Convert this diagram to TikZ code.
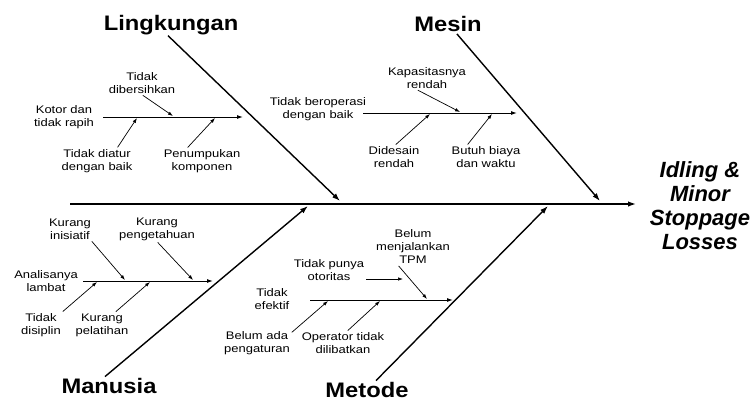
\documentclass[tikz,border=0pt]{standalone}
\usepackage{fontspec}
\setmainfont{Liberation Sans}
\newfontfamily\causefont[FakeStretch=1.18]{Liberation Sans}
\newfontfamily\bonefont[FakeStretch=1.13]{Liberation Sans}
\usetikzlibrary{
	arrows.meta,
	calc,
	positioning,
}
\tikzset{
	bone line/.style={line width=1.4pt, -{Latex[length=8pt,width=5.5pt]}},
	twig line/.style={line width=1pt, -{Latex[length=6pt,width=4pt]}},
	hint line/.style={line width=0.7pt, -{Latex[length=5pt,width=3.5pt]}, shorten <=1pt},
	cause node/.style={align=center, inner sep=1pt, font={\causefont\fontsize{11}{13}\selectfont}},
	bone node/.style={inner sep=1pt, anchor=base, font={\bonefont\bfseries\fontsize{21}{24}\selectfont}},
	effect node/.style={align=center, inner sep=1pt, font={\bfseries\itshape\fontsize{22}{24}\selectfont}},
}

\begin{document}
\begin{tikzpicture}[x=1pt,y=-1pt]
\useasboundingbox (0,0) rectangle (756,400);

\coordinate (tail) at (70,204);
\coordinate (head) at (636,204);
\draw[bone line] (tail) -- (head);
\node[effect node] (effect) at (700,206) {Idling \&\\Minor\\Stoppage\\Losses};

\foreach \n/\x/\y/\t in {
	lingk/171/30/Lingkungan
	,mesin/448/31/Mesin
	,manusia/109/393/Manusia
	,metode/367/397/Metode
}{
	\node[bone node] (\n) at (\x,\y) {\t};
}

% where the bones meet the spine
\foreach \n/\x/\y in {lk/340/201, ms/600/201, mn/308/206, mt/548/206}{
	\coordinate (\n-hit) at (\x,\y);
}
\draw[bone line] ([xshift=-3pt]lingk.south) -- (lk-hit);
\draw[bone line, shorten <=2pt] (mesin) -- (ms-hit);
\draw[bone line] ([xshift=-4pt]manusia.north) -- (mn-hit);
\draw[bone line] ([xshift=9pt]metode.north) -- (mt-hit);

\foreach \n/\xa/\xb/\y in {lk/103/243/117, ms/363/517/113, mn/83/213/281, mt/310/453/300}{
	\coordinate (\n-a) at (\xa,\y);
	\coordinate (\n-b) at (\xb,\y);
	\draw[twig line] (\n-a) -- (\n-b);
}

% Lingkungan
\node[cause node] (kotor) at (64,117) {Kotor dan\\tidak rapih};
\node[cause node] (bersih) at (142,83) {Tidak\\dibersihkan};
\node[cause node] (atur) at (97,161) {Tidak diatur\\dengan baik};
\node[cause node] (tumpuk) at (202,161) {Penumpukan\\komponen};
% Mesin
\node[cause node] (operasi) at (318,109) {Tidak beroperasi\\dengan baik};
\node[cause node] (kapasitas) at (427,78) {Kapasitasnya\\rendah};
\node[cause node] (desain) at (394,157) {Didesain\\rendah};
\node[cause node] (biaya) at (486,157) {Butuh biaya\\dan waktu};
% Manusia
\node[cause node] (analisa) at (46,281) {Analisanya\\lambat};
\node[cause node] (inisiatif) at (70,229) {Kurang\\inisiatif};
\node[cause node] (tahu) at (157,229) {Kurang\\pengetahuan};
\node[cause node] (disiplin) at (41,325) {Tidak\\disiplin};
\node[cause node] (latih) at (102,325) {Kurang\\pelatihan};
% Metode
\node[cause node] (efektif) at (272,299) {Tidak\\efektif};
\node[cause node] (otoritas) at (329,270) {Tidak punya\\otoritas};
\node[cause node] (tpm) at (413,247) {Belum\\menjalankan\\TPM};
\node[cause node] (atur2) at (257,343) {Belum ada\\pengaturan};
\node[cause node] (operator) at (343,343) {Operator tidak\\dilibatkan};

\foreach \n/\an/\dx/\x/\y in {
	bersih/south/0/173/116
	,atur/north/20/137/118
	,tumpuk/north/-15/215/118
	,kapasitas/south/-10/460/112
	,desain/north/1/430/114
	,biaya/north/-19/492/114
	,inisiatif/south east/-1/125/280
	,tahu/south/0/193/280
	,disiplin/north east/0/97/282
	,latih/north/13/150/282
	,tpm/south/-15/427/299
	,operator/north/4/380/301
}{
	\coordinate (\n-tip) at (\x,\y);
	\draw[hint line] ([xshift=\dx pt]\n.\an) -- (\n-tip);
}
\coordinate (atur2-tip) at (328,301);
\draw[hint line] ([yshift=10pt]atur2.east) -- (atur2-tip);
\coordinate (otoritas-tip) at (403,279);
\draw[hint line] (otoritas.east |- otoritas-tip) -- (otoritas-tip);

\end{tikzpicture}
\end{document}
